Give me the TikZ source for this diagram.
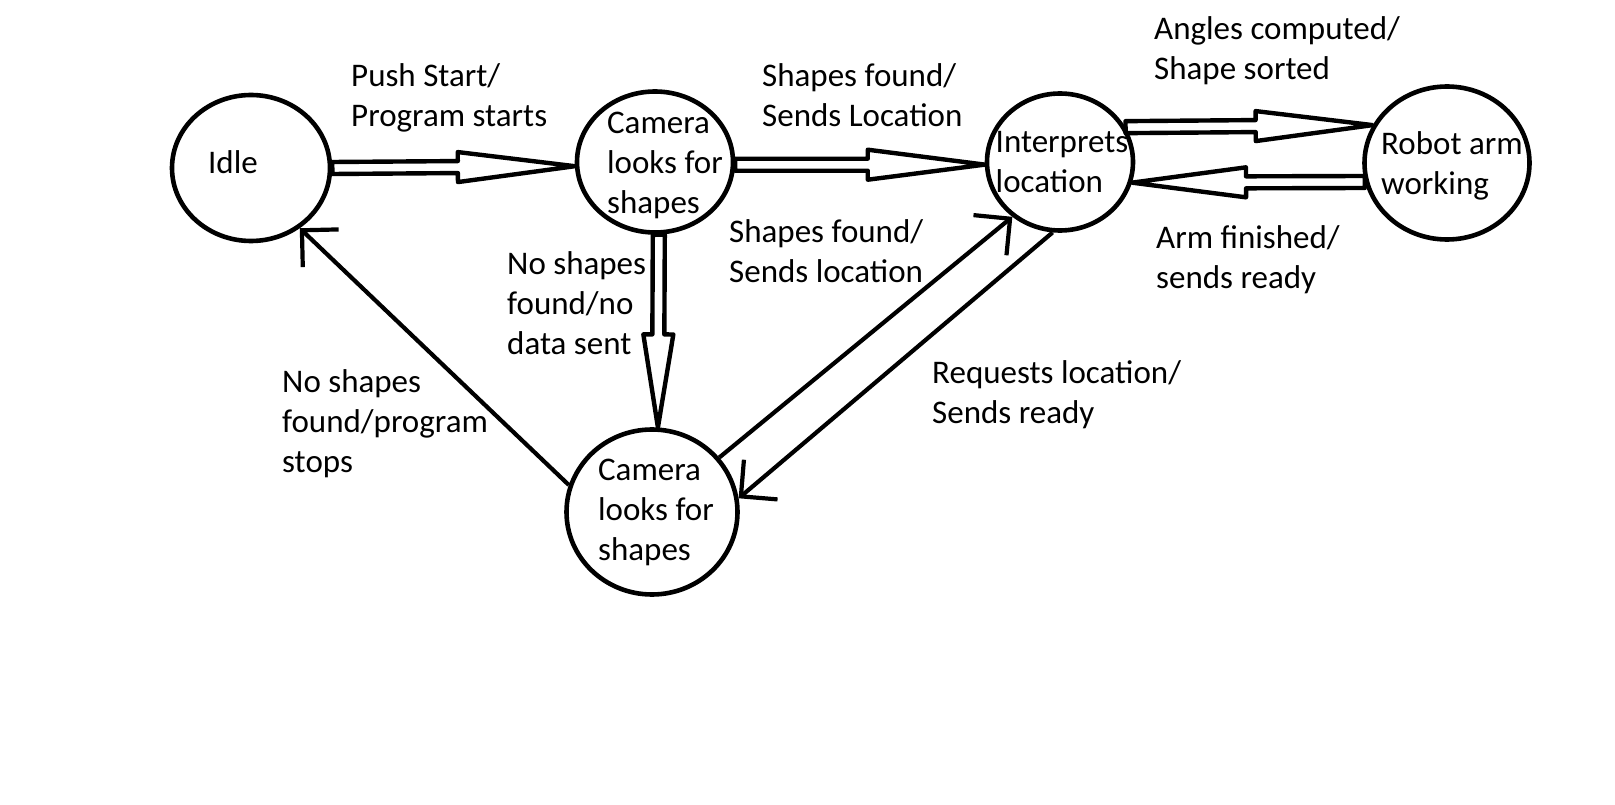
\documentclass[tikz,border=0pt]{standalone}
\usepackage{fontspec}
\setmainfont{Carlito}
\usepackage{tikz}
\usetikzlibrary{shapes.geometric}
\usetikzlibrary{arrows.meta}
\usetikzlibrary{calc}
\tikzset{
  state-node/.style={draw, ellipse, line width=4.6pt, inner sep=0pt},
  state-text/.style={align=left, inner sep=0pt},
  event-label/.style={anchor=north west, align=left, inner sep=0pt},
  thin-path/.style={line width=4.2pt, -{Straight Barb[length=26pt, width=52pt]}},
  fat-path/.style={line width=4.4pt, line join=round, to path={
    let \p1=($(\tikztotarget)-(\tikztostart)$), \n1={atan2(\y1,\x1)} in
    ($(\tikztostart)+(\n1+90:6pt)$)
    -- ($(\tikztotarget)+(\n1+180:#1)+(\n1+90:6pt)$)
    -- ($(\tikztotarget)+(\n1+180:#1)+(\n1+90:15pt)$)
    -- (\tikztotarget)
    -- ($(\tikztotarget)+(\n1+180:#1)+(\n1-90:15pt)$)
    -- ($(\tikztotarget)+(\n1+180:#1)+(\n1-90:6pt)$)
    -- ($(\tikztostart)+(\n1-90:6pt)$) -- cycle}},
}
\begin{document}
\begin{tikzpicture}[x=1pt, y=-1pt, font=\fontsize{33pt}{40pt}\selectfont]
\path[use as bounding box, fill=white] (0, 0) rectangle (1615, 805);
\node[state-node, minimum width=158pt, minimum height=146pt,
  label={[state-text, xshift=-18pt, yshift=6pt]center:Idle}] at (251, 168) (idle) {};
\node[state-node, minimum width=156pt, minimum height=141pt,
  label={[state-text, xshift=10pt, yshift=-3pt]center:Camera\\looks for\\shapes}] at (655, 162) (cam1) {};
\node[state-node, minimum width=146pt, minimum height=137pt,
  label={[state-text, xshift=2pt]center:Interprets\\location}] at (1060, 162) (interp) {};
\node[state-node, minimum width=165pt, minimum height=153pt,
  label={[state-text, xshift=5pt, yshift=-3pt]center:Robot arm\\working}] at (1447, 163) (robot) {};
\node[state-node, minimum width=171pt, minimum height=165pt,
  label={[state-text, xshift=4pt]center:Camera\\looks for\\shapes}] at (652, 512) (cam2) {};
\node[event-label] at (351, 63) (start-label) {Push Start/\\Program starts};
\node[event-label] at (762, 63) (found-label) {Shapes found/\\Sends Location};
\node[event-label] at (1154, 16) (angles-label) {Angles computed/\\Shape sorted};
\node[event-label] at (1156, 225) (finished-label) {Arm finished/\\sends ready};
\node[event-label] at (729, 219) (location-label) {Shapes found/\\Sends location};
\node[event-label] at (507, 251) (nodata-label) {No shapes\\found/no\\data sent};
\node[event-label] at (282, 369) (stops-label) {No shapes\\found/program\\stops};
\node[event-label] at (932, 360) (request-label) {Requests location/\\Sends ready};
\draw[fat-path=117pt] (idle.east) to (cam1.183);
\draw[fat-path=117pt] (cam1.-2) to (interp.182);
\draw[fat-path=117pt] (interp.28) to (robot.153);
\draw[fat-path=114pt] (robot.-167) to (interp.-16);
\draw[fat-path=93pt] (cam1.-87) to (cam2.86);
\draw[thin-path] (cam2.162) -- (idle.-51);
\draw[thin-path] (cam2.39) -- (interp.-131);
\draw[thin-path] (interp.-96) -- (cam2.9);
\end{tikzpicture}
\end{document}
